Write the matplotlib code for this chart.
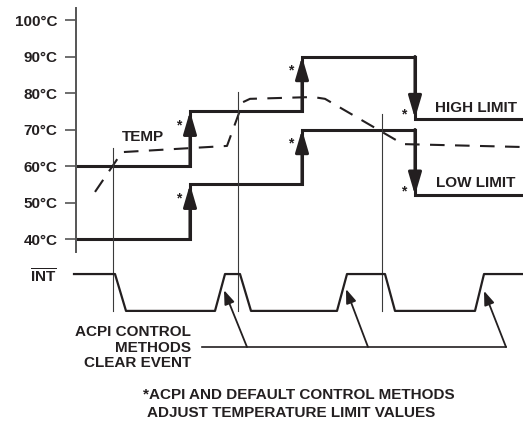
import numpy as np
import matplotlib
matplotlib.use("Agg")
import matplotlib.pyplot as plt

plt.rcParams["font.family"] = ["Liberation Sans", "DejaVu Sans"]
plt.rcParams["font.weight"] = "bold"
plt.rcParams["mathtext.fontset"] = "custom"
plt.rcParams["mathtext.rm"] = "Liberation Sans:bold"
plt.rcParams["mathtext.bf"] = "Liberation Sans:bold"

ink = "#231f20"
thin = "#3a3a3a"

# time in arbitrary units, temperature in deg C
t_start, t_end = 76, 523
step_times = [190, 302, 415]
high_limit = [60, 75, 90, 73]
low_limit = [40, 55, 70, 52]

# measured temperature (dashed)
temp_t = [95, 122, 227, 243, 250, 313, 325, 403, 523]
temp_c = [52.9, 63.8, 65.5, 77.5, 78.4, 78.9, 78.4, 66.0, 65.2]

# where the temperature crosses a limit
event_t = [113, 238, 382]
event_top = [64.9, 80.3, 74.2]
event_bottom = 20.3

# INT output (1 = high, 0 = low)
int_levels = {1: 30.4, 0: 20.3}
int_t = [74, 115, 126, 215, 225, 240, 251, 337, 347, 385, 395, 475, 484, 523]
int_s = [1, 1, 0, 0, 1, 1, 0, 0, 1, 1, 0, 0, 1, 1]

# ACPI clear-event arrows
clear_tip_t = [224, 346, 484]
clear_tip_c = [26.0, 26.3, 25.8]
clear_base_t = [247, 368, 506]
clear_base_c = 10.4
clear_line_start = 202

yticks = [40, 50, 60, 70, 80, 90, 100]
ytick_labels = ["40°C", "50°C", "60°C", "70°C", "80°C", "90°C", "100°C"]

fig = plt.figure(figsize=(5.23, 4.21), dpi=100)
ax = fig.add_axes([0, 0, 1, 1])
ax.set_xlim(0, 523)
ax.set_ylim(100 - 401 / 3.65, 100 + 20 / 3.65)

# axis
for s in ["top", "right", "bottom"]:
    ax.spines[s].set_visible(False)
ax.spines["left"].set_position(("data", t_start))
ax.spines["left"].set_bounds(36.4, 103.3)
ax.spines["left"].set_color("#555555")
ax.spines["left"].set_linewidth(1.4)
ax.set_xticks([])
ax.set_yticks(yticks)
ax.set_yticklabels(ytick_labels)
ax.tick_params(axis="y", direction="out", length=8, width=1.2, color="#555555",
               pad=5.5, labelsize=11, labelcolor=ink)
for lab in ax.get_yticklabels():
    lab.set_fontweight("bold")

# limit steps
def steps(levels):
    xs = [t_start]
    ys = [levels[0]]
    for t, a, b in zip(step_times, levels[:-1], levels[1:]):
        xs += [t, t]
        ys += [a, b]
    xs.append(t_end)
    ys.append(levels[-1])
    return xs, ys

for levels in (high_limit, low_limit):
    xs, ys = steps(levels)
    ax.plot(xs, ys, color=ink, lw=2.2, solid_capstyle="butt", solid_joinstyle="miter")
    for t, a, b in zip(step_times, levels[:-1], levels[1:]):
        ax.annotate("", xy=(t, b), xytext=(t, a),
                    arrowprops=dict(arrowstyle="-|>,head_length=0.75,head_width=0.22",
                                    color=ink, lw=2.2, shrinkA=0, shrinkB=0,
                                    mutation_scale=18))
        off = -2.7 if b > a else 2.2
        ax.text(t - 11, b + off - 2.3, "*", ha="center", va="baseline",
                fontsize=10, color=ink)

# temperature
ax.plot(temp_t, temp_c, color=ink, lw=1.5, dashes=(7, 5))

# event marker lines
for t, top in zip(event_t, event_top):
    ax.plot([t, t], [event_bottom, top], color=thin, lw=0.8)

# INT waveform
ax.plot(int_t, [int_levels[s] for s in int_s], color=ink, lw=1.6)

# clear-event arrows
ax.plot([clear_line_start, clear_base_t[-1]], [clear_base_c, clear_base_c], color=ink, lw=1.2)
for bt, tt, tc in zip(clear_base_t, clear_tip_t, clear_tip_c):
    ax.annotate("", xy=(tt, tc), xytext=(bt, clear_base_c),
                arrowprops=dict(arrowstyle="-|>,head_length=0.6,head_width=0.22",
                                color=ink, lw=1.3, shrinkA=0, shrinkB=0,
                                mutation_scale=14))

# labels
ax.text(122, 68.0, "TEMP", ha="left", va="center", fontsize=11, color=ink)
ax.text(435, 75.9, "HIGH LIMIT", ha="left", va="center", fontsize=11, color=ink)
ax.text(436, 55.3, "LOW LIMIT", ha="left", va="center", fontsize=11, color=ink)
ax.text(57, 29.6, r"$\overline{\mathbf{INT}}$", ha="right", va="center", fontsize=11, color=ink)

ax.text(191, 14.5, "ACPI CONTROL", ha="right", va="center", fontsize=11, color=ink)
ax.text(191, 10.1, "METHODS", ha="right", va="center", fontsize=11, color=ink)
ax.text(191, 6.0, "CLEAR EVENT", ha="right", va="center", fontsize=11, color=ink)

ax.text(143, -2.7, "*ACPI AND DEFAULT CONTROL METHODS", ha="left", va="center",
        fontsize=11, color=ink)
ax.text(147, -7.7, "ADJUST TEMPERATURE LIMIT VALUES", ha="left", va="center",
        fontsize=11, color=ink)

fig.savefig("out.png", dpi=100)
